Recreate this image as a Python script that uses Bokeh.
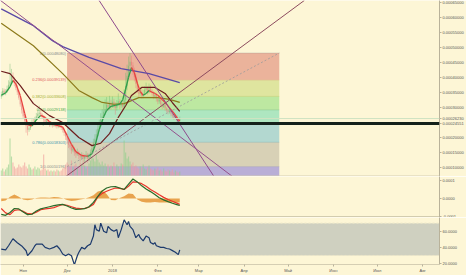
import pandas as pd
from bokeh.plotting import figure
from bokeh.layouts import column
from bokeh.models import Range1d, FixedTicker, NumeralTickFormatter, Span, BoxAnnotation
from bokeh.core.properties import value
from bokeh.embed import file_html
from bokeh.resources import INLINE

BASE = pd.Timestamp("2017-11-01")


def day(s):
    return (pd.Timestamp(s) - BASE).days


U = 1e-5  # price values below are written in units of 1e-5

# ---------------- data ----------------
candle_start = "2017-10-17"
opens_e5 = [33.5, 34.0, 35.5, 34.8, 35.2, 36.0, 37.5, 38.5, 40.5, 39.0, 38.2, 36.5, 35.0, 33.2, 31.0,
            29.0, 27.0, 25.5, 23.8, 22.5, 23.0, 24.2, 25.0, 24.6, 26.0,
            27.0, 27.8, 28.2, 27.5, 26.8, 25.9, 25.2, 25.6, 24.8, 24.1,
            24.5, 23.9, 24.4, 24.0, 23.6, 24.2, 23.8, 23.2, 22.5, 21.4,
            20.2, 19.0, 17.5, 16.8, 15.6, 16.2, 14.9, 14.3, 15.0, 13.8,
            13.2, 14.1, 12.8, 13.5, 14.2, 12.9, 13.6, 15.0, 16.4, 18.2,
            19.5, 21.0, 22.8, 24.0, 26.2, 27.0, 28.5, 29.4, 30.8, 30.0,
            31.5, 30.4, 31.8, 30.9, 29.8, 31.2, 32.0, 30.6, 31.4, 30.2,
            32.5, 37.0, 40.5, 43.8, 45.2, 44.0, 42.5, 40.0, 37.8, 36.0,
            34.5, 35.2, 33.8, 34.6, 35.8, 36.4, 35.0, 36.8, 35.6, 34.9,
            33.6, 34.2, 32.8, 31.9, 32.6, 31.0, 30.2, 30.8, 29.6, 29.0,
            28.4, 28.9, 27.8, 27.2, 26.5, 27.0, 25.9, 25.4]
closes_e5 = [34.0, 35.5, 34.8, 35.2, 36.0, 37.5, 38.5, 40.5, 39.0, 38.2, 36.5, 35.0, 33.2, 31.0, 29.0,
             27.0, 25.5, 23.8, 22.5, 23.0, 24.2, 25.0, 24.6, 26.0, 27.0,
             27.8, 28.2, 27.5, 26.8, 25.9, 25.2, 25.6, 24.8, 24.1, 24.5,
             23.9, 24.4, 24.0, 23.6, 24.2, 23.8, 23.2, 22.5, 21.4, 20.2,
             19.0, 17.5, 16.8, 15.6, 16.2, 14.9, 14.3, 15.0, 13.8, 13.2,
             14.1, 12.8, 13.5, 14.2, 12.9, 13.6, 15.0, 16.4, 18.2, 19.5,
             21.0, 22.8, 24.0, 26.2, 27.0, 28.5, 29.4, 30.8, 30.0, 31.5,
             30.4, 31.8, 30.9, 29.8, 31.2, 32.0, 30.6, 31.4, 30.2, 32.5,
             37.0, 40.5, 43.8, 45.2, 44.0, 42.5, 40.0, 37.8, 36.0, 34.5,
             35.2, 33.8, 34.6, 35.8, 36.4, 35.0, 36.8, 35.6, 34.9, 33.6,
             34.2, 32.8, 31.9, 32.6, 31.0, 30.2, 30.8, 29.6, 29.0, 28.4,
             28.9, 27.8, 27.2, 26.5, 27.0, 25.9, 25.4, 26.23]
highs_e5 = [35.2, 36.4, 36.2, 36.0, 37.2, 39.0, 44.5, 42.8, 41.6, 40.1, 38.9, 37.3, 35.8, 33.9, 31.6,
            29.8, 27.6, 26.1, 24.4, 24.1, 25.0, 25.9, 26.2, 26.8, 28.1,
            29.0, 30.5, 28.9, 28.0, 27.4, 26.5, 26.4, 26.0, 25.3, 25.2,
            25.0, 25.1, 25.0, 24.6, 24.9, 24.7, 24.3, 23.7, 23.0, 21.9,
            20.8, 19.5, 18.3, 17.4, 17.5, 16.8, 15.6, 16.2, 15.5, 14.5,
            15.0, 14.6, 14.3, 15.4, 14.8, 14.6, 15.9, 17.6, 19.5, 21.0,
            22.6, 24.5, 25.8, 28.0, 29.4, 31.0, 32.6, 33.4, 32.0, 33.8,
            32.5, 33.6, 32.8, 31.7, 32.4, 34.6, 32.7, 32.5, 32.0, 36.0,
            41.5, 44.2, 46.9, 48.08, 47.2, 45.0, 43.2, 41.0, 38.9, 36.8,
            36.6, 35.9, 35.8, 37.0, 38.2, 37.0, 37.9, 37.4, 36.2, 35.4,
            35.0, 34.8, 33.4, 33.5, 33.0, 31.6, 31.5, 31.2, 30.1, 29.6,
            29.7, 29.3, 28.3, 27.8, 27.7, 27.4, 26.5, 26.9]
lows_e5 = [32.8, 33.6, 34.1, 34.0, 34.8, 35.5, 36.8, 37.9, 38.2, 37.0, 35.7, 34.1, 32.5, 30.2, 27.9,
           26.1, 24.3, 21.5, 20.6, 21.8, 22.4, 23.6, 23.9, 24.0, 25.4,
           26.5, 27.0, 26.8, 26.1, 25.0, 24.4, 24.7, 24.1, 23.5, 23.6,
           23.2, 23.4, 23.3, 22.9, 23.0, 23.1, 22.4, 21.6, 20.5, 19.1,
           17.8, 16.4, 15.9, 14.5, 15.0, 13.8, 13.1, 13.8, 12.6, 11.9,
           12.4, 10.2, 11.6, 12.8, 11.5, 12.0, 13.0, 14.6, 15.8, 17.6,
           18.9, 20.4, 22.0, 23.5, 25.3, 26.2, 27.4, 28.6, 28.7, 29.2,
           29.3, 29.8, 29.6, 27.5, 28.9, 30.5, 29.4, 29.8, 28.6, 29.8,
           31.8, 35.6, 39.8, 42.5, 42.0, 40.8, 38.6, 36.4, 34.8, 33.2,
           33.8, 32.9, 33.0, 34.0, 35.0, 34.2, 34.6, 34.8, 33.9, 32.7,
           32.9, 31.9, 31.0, 31.2, 30.1, 29.4, 29.7, 28.8, 28.2, 27.6,
           27.9, 27.0, 26.5, 25.8, 26.0, 25.2, 24.6, 25.0]
volumes = [6, 8, 5, 7, 9, 12, 38, 20, 14, 10, 8, 9, 12, 10, 9,
           11, 14, 10, 8, 12, 9, 7, 8, 10, 7,
           9, 8, 6, 7, 22, 8, 6, 7, 5, 6,
           5, 6, 5, 7, 6, 5, 6, 8, 9, 12,
           14, 12, 10, 16, 9, 11, 13, 8, 10, 14,
           12, 9, 11, 8, 10, 13, 16, 20, 18, 15,
           22, 17, 14, 12, 15, 11, 13, 10, 12, 9,
           11, 10, 14, 9, 12, 10, 8, 13, 12, 36,
           24, 18, 20, 15, 12, 14, 10, 11, 9, 8,
           10, 9, 12, 8, 7, 9, 11, 8, 7, 6,
           8, 7, 9, 6, 7, 5, 8, 6, 5, 7,
           6, 5, 7, 4, 6, 5, 4, 5]

ma_fast_days = [-15, -12, -9, -7, -5, -2, 1, 3, 6, 9, 12, 15, 18, 21, 24, 27, 30, 33, 36, 40,
                44, 47, 49, 52, 55, 57, 60, 63, 66, 68, 70, 72, 74, 76, 78, 80, 82, 84, 86, 88,
                90, 92, 95, 97, 100, 103, 106, 107]
ma_fast_e5 = [34.0, 34.8, 36.8, 38.9, 37.8, 33.9, 28.0, 24.2, 23.8, 25.8, 27.3, 26.6, 25.2, 24.2, 23.9,
              23.4, 20.6, 17.6, 15.2, 13.9, 13.6, 14.5, 17.0, 22.6, 26.8, 28.9, 30.3, 30.6, 31.0, 32.5,
              36.0, 40.0, 43.2, 41.5, 38.0, 35.2, 34.0, 34.6, 35.6, 35.0, 34.6, 34.0, 32.6, 31.6, 29.8,
              28.0, 25.9, 25.4]
ma_mid_days = [-15, -9, -2, 7, 18, 27, 38, 47, 53, 59, 65, 70, 74, 81, 90, 97, 102, 107]
ma_mid_e5 = [42.0, 41.2, 37.2, 31.2, 27.2, 24.9, 19.9, 17.2, 18.0, 21.2, 26.6, 30.5, 33.9, 36.6, 36.6,
             34.6, 31.5, 28.6]
ma_slow_days = [-15, 7, 27, 38, 47, 54, 62, 69, 79, 92, 100, 107]
ma_slow_e5 = [58.0, 50.5, 41.2, 35.6, 33.2, 31.6, 31.0, 31.2, 33.2, 33.2, 32.6, 31.6]
ma_long_days = [-15, 7, 20, 27, 45, 67, 86, 107]
ma_long_e5 = [62.8, 57.2, 52.2, 50.2, 46.6, 42.9, 41.2, 38.2]

macd_days = [-15, -12, -9, -6, -3, 0, 3, 6, 9, 12, 15, 18, 21, 24, 27, 30, 33, 36, 39, 42, 45,
             48, 51, 54, 57, 60, 63, 66, 69, 72, 75, 78, 81, 84, 87, 90, 93, 96, 99, 102, 105, 107]
macd_e5 = [-8.9, -9.4, -7.8, -5.6, -5.8, -7.5, -9.0, -8.8, -7.0, -5.8, -5.2, -4.6, -4.0, -3.6, -3.3,
           -4.2, -5.3, -6.1, -6.0, -5.7, -4.6, -2.2, 1.2, 4.2, 5.8, 6.5, 6.6, 5.8, 5.0, 8.0, 10.8,
           9.2, 7.0, 5.2, 3.8, 2.2, 0.4, -0.8, -1.8, -2.7, -3.4, -3.9]
signal_e5 = [-5.6, -8.0, -9.0, -6.6, -6.3, -7.2, -8.5, -8.6, -7.6, -6.3, -5.8, -5.5, -5.1, -4.2, -3.4,
             -3.8, -4.6, -5.4, -5.7, -5.5, -4.8, -3.3, 0.8, 2.8, 4.0, 5.0, 5.8, 5.6, 5.0, 6.8, 9.2,
             9.0, 8.2, 6.8, 5.0, 3.6, 2.0, 0.6, -0.6, -1.6, -2.6, -3.3]
hist_e5 = [-1.5, -1.2, 1.0, 2.2, 1.0, -0.6, -1.0, -0.6, 0.3, 0.5, 0.5, 0.4, 0.8, 0.6, 0.1,
           -0.8, -1.4, -1.2, -0.6, -0.2, 0.6, 1.8, 3.8, 4.4, 2.5, -0.8, -1.0, 0.2, 1.2, 2.8, 2.4,
           -0.6, -1.8, -2.2, -2.2, -2.0, -2.2, -2.2, -2.2, -2.2, -2.2, -2.2]

rsi_days = [-15, -12, -10, -7, -4, -1, 2, 3, 6, 8, 9, 11, 13, 15, 18, 21, 23, 25, 27, 29, 31, 33,
            35, 37, 38, 40, 42, 44, 46, 48, 49, 50, 52, 53, 55, 57, 58, 60, 62, 64, 65, 67, 69,
            71, 72, 73, 75, 77, 79, 80, 82, 84, 86, 87, 89, 90, 91, 94, 96, 98, 100, 102, 104,
            106, 107]
rsi_vals = [37.8, 37.0, 42.0, 50.7, 45.8, 41.8, 35.8, 29.7, 35.8, 42.0, 44.0, 44.0, 44.0, 40.0, 38.0,
            40.0, 42.0, 38.0, 31.8, 29.7, 31.8, 29.7, 18.4, 29.7, 33.7, 40.0, 38.0, 42.0, 44.0, 54.0,
            68.0, 62.0, 60.0, 70.0, 60.0, 58.0, 66.0, 62.0, 60.0, 62.0, 52.0, 62.0, 74.0, 68.0, 72.0,
            66.0, 62.0, 52.0, 56.0, 52.0, 48.0, 54.0, 52.0, 46.0, 44.0, 46.0, 42.0, 40.0, 40.0, 38.6,
            38.0, 36.0, 34.0, 31.0, 37.0]

month_dates = ["2017-11-01", "2017-12-01", "2018-01-01", "2018-02-01", "2018-03-01",
               "2018-04-01", "2018-05-01", "2018-06-01", "2018-07-01", "2018-08-01"]
month_labels = ["Ноя", "Дек", "2018", "Фев", "Мар", "Апр", "Май", "Июн", "Июл", "Авг"]

price_ticks = [0.0001, 0.00015, 0.0002, 0.0003, 0.00035, 0.0004, 0.00045, 0.0005, 0.00055, 0.0006, 0.00065]
macd_ticks = [-0.0001, 0.0, 0.0001]
rsi_ticks = [20, 40, 60]

fib_start, fib_end = "2017-12-01", "2018-04-25"
fib_high = 0.00048080
fib_low = 0.00010196
fib_levels = [0, 0.236, 0.382, 0.5, 0.618, 0.786, 1, 1.618]
fib_band_colors = ["#ebb39b", "#dfe59f", "#bde8a1", "#aee6c0", "#b3d8d0", "#d8d1b6", "#b9aed6"]
fib_text_colors = ["#8a8a8a", "#e0575b", "#a2ae2e", "#4aa84a", "#2e9f6e", "#3f95b0", "#8a8a8a", "#7060b0"]

hline_price = 0.00024551

# trend lines: (day, price e-5) anchor pairs
trend_d0 = [-16.0, 51.9, 28.3]
trend_p0 = [65.8, 65.6, 6.6]
trend_d1 = [143.0, 130.8, 192.1]
trend_p1 = [6.9, 6.6, 65.6]
trend_colors = ["#94508c", "#8e4a8c", "#8c4b5e"]

# ---------------- build ----------------
BG = "#fdf6d6"
W = 466
RB = 25
FONT = "Liberation Sans"
AX = "#b9b29a"

candle_days = [day(candle_start) + i for i in range(len(closes_e5))]
xr = Range1d(-15.5, 284.5)


def style_yaxis(f, ticks, fmt):
    ax = f.yaxis[0]
    ax.ticker = FixedTicker(ticks=ticks)
    ax.formatter = NumeralTickFormatter(format=fmt)
    ax.axis_line_color = AX
    ax.major_tick_line_color = AX
    ax.minor_tick_line_color = None
    ax.major_tick_out = 2
    ax.major_tick_in = 0
    ax.major_label_standoff = 1
    ax.major_label_text_font_size = "4px"
    ax.major_label_text_font = FONT
    ax.major_label_text_color = "#555555"


def make_fig(h, yr, bottom=0, xaxis=False):
    f = figure(width=W, height=h, x_range=xr, y_range=yr, y_axis_location="right",
               x_axis_location="below" if xaxis else None, toolbar_location=None,
               output_backend="svg", title=None,
               min_border_left=0, min_border_right=RB, min_border_top=0, min_border_bottom=bottom,
               background_fill_color=BG, border_fill_color=BG, outline_line_color=None)
    f.grid.grid_line_color = None
    return f


# ---- main pane ----
p = make_fig(176, Range1d(0.000069, 0.000656))
last_price = closes_e5[-1] * U
style_yaxis(p, sorted(price_ticks + [last_price, hline_price]), "0.00000000")
p.extra_y_ranges = {"vol": Range1d(0, 176)}

# fib bands
fib_prices = [fib_high - l * (fib_high - fib_low) for l in fib_levels]
fl, fr = day(fib_start), day(fib_end)
nb = len(fib_band_colors)
p.quad(left=[fl] * nb, right=[fr] * nb, top=fib_prices[:-1], bottom=fib_prices[1:],
       fill_color=fib_band_colors, line_color=None)
p.segment(x0=[fl] * nb, x1=[fr] * nb, y0=fib_prices[:nb], y1=fib_prices[:nb],
          line_color=fib_text_colors[:nb], line_alpha=0.35, line_width=0.8)
fib_labels = [f"{l:g}({pr:.8f})" for l, pr in zip(fib_levels[:nb], fib_prices[:nb])]
p.text(x=[fl] * nb, y=fib_prices[:nb], text=fib_labels, text_align="right", text_baseline="middle",
       text_font_size="4px", text_color=fib_text_colors[:nb], x_offset=-1, text_font=value(FONT))

# volume + candles
up = [c >= o for o, c in zip(opens_e5, closes_e5)]
vcol = ["#8fcf8a" if u else "#f09a9a" for u in up]
ccol = ["#6fb86f" if u else "#e87878" for u in up]
p.vbar(x=candle_days, width=0.8, top=volumes, bottom=0, y_range_name="vol",
       fill_color=vcol, line_color=None, fill_alpha=0.6)
p.segment(x0=candle_days, x1=candle_days, y0=[v * U for v in lows_e5], y1=[v * U for v in highs_e5],
          line_color=ccol, line_alpha=0.5, line_width=0.8)
p.vbar(x=candle_days, width=0.8,
       top=[max(o, c) * U for o, c in zip(opens_e5, closes_e5)],
       bottom=[min(o, c) * U for o, c in zip(opens_e5, closes_e5)],
       fill_color=ccol, line_color=None, fill_alpha=0.5)

# moving averages
p.line(ma_long_days, [v * U for v in ma_long_e5], line_color="#5a4aa6", line_width=1.3)
p.line(ma_slow_days, [v * U for v in ma_slow_e5], line_color="#8c7a1c", line_width=1.2)
p.line(ma_mid_days, [v * U for v in ma_mid_e5], line_color="#6e1e1e", line_width=1.2)
fx0, fx1 = ma_fast_days[:-1], ma_fast_days[1:]
fy0, fy1 = ma_fast_e5[:-1], ma_fast_e5[1:]
fcol = ["#2f9e4a" if b >= a else "#e8423f" for a, b in zip(fy0, fy1)]
p.segment(x0=fx0, x1=fx1, y0=[v * U for v in fy0], y1=[v * U for v in fy1],
          line_color=fcol, line_width=1.3)

# drawings
p.segment(x0=trend_d0, x1=trend_d1, y0=[v * U for v in trend_p0], y1=[v * U for v in trend_p1],
          line_color=trend_colors, line_width=1)
p.line([fl, fr], [fib_low, fib_high], line_color="#9a9a9a", line_dash="2 2", line_width=0.8)

p.add_layout(Span(location=last_price, dimension="width", line_color="#cfe3c2", line_width=1))
p.add_layout(Span(location=hline_price, dimension="width", line_color="#14211a", line_width=3))
p.add_layout(Span(location=0.000069, dimension="width", line_color="#d5ceb3", line_width=2))

# ---- MACD pane ----
m = make_fig(41, Range1d(-0.000106, 0.000122))
style_yaxis(m, macd_ticks, "0.0000")
m.varea(x=macd_days, y1=0, y2=[v * U for v in hist_e5], fill_color="#e59a3e", fill_alpha=0.9)
m.line(macd_days, [v * U for v in signal_e5], line_color="#e8352a", line_width=1.2)
m.line(macd_days, [v * U for v in macd_e5], line_color="#2a6a2a", line_width=1.2)
m.add_layout(Span(location=-0.000106, dimension="width", line_color="#a8a187", line_width=2))

# ---- RSI pane ----
r = make_fig(58, Range1d(18.8, 77), bottom=10, xaxis=True)
style_yaxis(r, rsi_ticks, "0.0000")
r.add_layout(BoxAnnotation(bottom=30, top=70, fill_color="#cfd0c0", fill_alpha=1, line_color=None,
                           level="underlay"))
r.add_layout(Span(location=70, dimension="width", line_color="#ece6c8", line_dash="2 2", line_width=1,
                  level="underlay"))
r.add_layout(Span(location=30, dimension="width", line_color="#ece6c8", line_dash="2 2", line_width=1,
                  level="underlay"))
r.line(rsi_days, rsi_vals, line_color="#1c3a6c", line_width=1.2)

xa = r.xaxis[0]
month_days = [day(s) for s in month_dates]
xa.ticker = FixedTicker(ticks=month_days)
xa.major_label_overrides = {d: l for d, l in zip(month_days, month_labels)}
xa.axis_line_color = "#d5ceb3"
xa.major_tick_line_color = AX
xa.minor_tick_line_color = None
xa.major_tick_out = 2
xa.major_tick_in = 0
xa.major_label_standoff = 1
xa.major_label_text_font_size = "4px"
xa.major_label_text_font = FONT
xa.major_label_text_color = "#555555"

layout = column(p, m, r, spacing=0)
open("out.html", "w").write(file_html(layout, INLINE))
